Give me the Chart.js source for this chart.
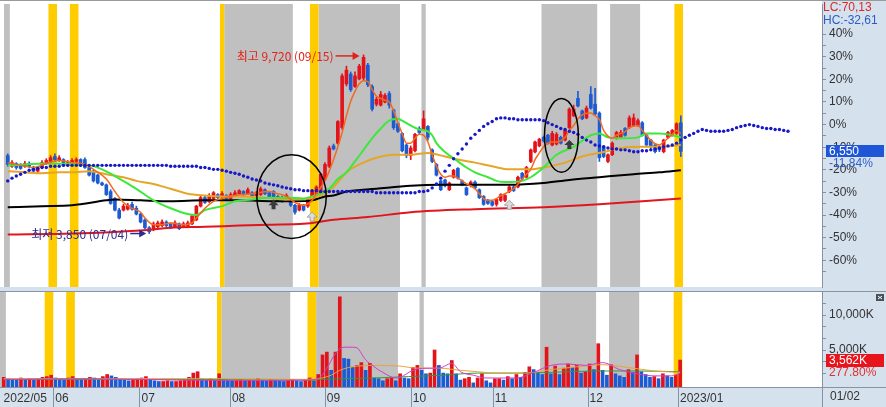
<!DOCTYPE html>
<html lang="ko">
<head>
<meta charset="utf-8">
<title>Daily price chart</title>
<script src="https://cdn.jsdelivr.net/npm/chart.js@4.4.0/dist/chart.umd.min.js"></script>
<style>
  html, body { margin: 0; padding: 0; background: #ffffff; }
  #board { position: relative; width: 886px; height: 407px; overflow: hidden; }
  #board canvas { position: absolute; left: 0; }
  #priceChart { top: 0; }
  #volumeChart { top: 291px; }
</style>
</head>
<body>
<div id="board">
  <canvas id="priceChart" width="886" height="291"></canvas>
  <canvas id="volumeChart" width="886" height="116"></canvas>
</div>
<script>
// daily candles, one per trading day from mid May 2022 to 2023/01/02
const opens = [
  6410, 6060, 6150, 6120, 6060, 6150, 6020, 5900, 6020, 6150,
  6220, 6380, 6250, 6280, 6090, 6150, 6220, 6280, 6280, 6020,
  5900, 5770, 5510, 5450, 5230, 5000, 4620, 4620, 4650, 4810,
  4680, 4490, 4300, 4040, 3980, 4070, 4110, 4230, 4170, 4070,
  4170, 4070, 4110, 4170, 4300, 4750, 5030, 4900, 5000, 5130,
  5070, 5100, 5000, 5100, 5160, 5230, 5160, 5190, 5070, 5130,
  5290, 5190, 5230, 5070, 5030, 5000, 4900, 4780, 4620, 4780,
  4750, 4970, 5130, 5160, 5640, 6060, 6730, 6820, 7330, 8770,
  9090, 8680, 8930, 8960, 9380, 8680, 8100, 8070, 8170, 8450,
  7910, 7460, 7140, 6760, 6410, 6570, 7300, 7270, 7370, 6600,
  6120, 5580, 5610, 5290, 5700, 5990, 5580, 5350, 5420, 5540,
  5290, 5070, 4940, 4900, 4810, 4940, 4940, 5230, 5380, 5380,
  5830, 5700, 6220, 6530, 6730, 7010, 7080, 6760, 6790, 7010,
  6920, 7330, 7720, 8290, 7880, 7650, 8420, 8100, 7810, 6700,
  6220, 6440, 6980, 7010, 7300, 7330, 7400, 7400, 7490, 7080,
  6920, 6760, 6700, 6540, 7010, 7080, 7140, 7490
];
const highs = [
  6470, 6250, 6180, 6150, 6220, 6210, 6060, 6060, 6250, 6310,
  6410, 6470, 6410, 6310, 6250, 6310, 6340, 6310, 6340, 6060,
  5930, 5800, 5540, 5480, 5290, 5030, 4680, 4810, 4840, 4880,
  4750, 4520, 4330, 4080, 4230, 4260, 4300, 4270, 4200, 4270,
  4200, 4230, 4260, 4460, 4780, 5100, 5070, 5160, 5230, 5160,
  5230, 5130, 5190, 5260, 5290, 5260, 5350, 5230, 5230, 5380,
  5320, 5230, 5260, 5100, 5070, 5160, 4940, 4810, 4840, 4810,
  5030, 5290, 5420, 5830, 6180, 6730, 6790, 7560, 9100, 9350,
  9160, 9160, 9410, 9720, 9440, 8740, 8330, 8520, 8450, 8520,
  7940, 7490, 7170, 6790, 6730, 7140, 7360, 7880, 7400, 6630,
  6150, 5610, 5640, 5540, 5960, 6020, 5610, 5380, 5580, 5580,
  5320, 5100, 4970, 4940, 5000, 5160, 5130, 5420, 5420, 5740,
  5860, 6060, 6630, 6890, 6980, 7050, 7110, 7210, 7170, 7050,
  7300, 7980, 8070, 8520, 7910, 8040, 8680, 8620, 7850, 6730,
  6470, 6860, 7210, 7240, 7330, 7720, 7780, 7620, 7530, 7110,
  6950, 6790, 6730, 6950, 7210, 7270, 7490, 7720
];
const lows = [
  6060, 6020, 5960, 5960, 6020, 6020, 5860, 5860, 5990, 6120,
  6180, 6220, 6220, 6050, 6050, 6120, 6180, 6050, 5990, 5740,
  5540, 5480, 5420, 5100, 4810, 4590, 4330, 4590, 4620, 4620,
  4460, 4200, 4010, 3850, 3940, 4040, 4070, 4070, 4010, 4040,
  3980, 4040, 4070, 4140, 4270, 4720, 4840, 4870, 4970, 5000,
  5030, 4970, 4970, 5070, 5130, 5100, 5130, 5030, 5030, 5100,
  5130, 5030, 4970, 4900, 4870, 4970, 4740, 4490, 4590, 4590,
  4710, 4940, 5100, 5130, 5610, 6020, 6600, 6790, 7270, 8700,
  8520, 8650, 8900, 8900, 8680, 7880, 8040, 8040, 8140, 7970,
  7270, 7170, 6530, 6340, 6280, 6530, 7110, 7240, 6920, 6180,
  5740, 5260, 5380, 5260, 5670, 5640, 5420, 5100, 5380, 5320,
  5000, 4780, 4810, 4750, 4750, 4900, 4900, 5190, 5230, 5350,
  5610, 5670, 6180, 6500, 6700, 6860, 6790, 6730, 6760, 6790,
  6890, 7300, 7690, 8010, 7590, 7620, 7940, 7750, 6220, 6340,
  6180, 6410, 6950, 6980, 7050, 7300, 7370, 7370, 7050, 6700,
  6630, 6500, 6540, 6500, 6980, 7050, 7110, 6380
];
const closes = [
  6120, 6180, 6020, 5990, 6150, 6060, 5900, 6020, 6180, 6250,
  6340, 6280, 6340, 6090, 6180, 6250, 6280, 6090, 6020, 5770,
  5580, 5510, 5450, 5130, 4840, 4620, 4360, 4750, 4780, 4650,
  4490, 4230, 4040, 3910, 4170, 4200, 4230, 4110, 4040, 4200,
  4010, 4170, 4200, 4430, 4750, 5030, 4870, 5100, 5190, 5030,
  5160, 5000, 5130, 5190, 5260, 5130, 5290, 5070, 5190, 5320,
  5160, 5070, 5000, 4940, 4900, 5100, 4780, 4550, 4780, 4620,
  5000, 5260, 5380, 5800, 6120, 6660, 6630, 7530, 9030, 9220,
  8580, 9030, 9350, 9640, 8740, 7940, 8260, 8420, 8390, 8070,
  7330, 7210, 6570, 6410, 6660, 7110, 7170, 7620, 7010, 6220,
  5770, 5290, 5420, 5510, 5930, 5670, 5450, 5130, 5540, 5350,
  5030, 4810, 4840, 4780, 4970, 5130, 5100, 5380, 5260, 5700,
  5640, 6020, 6600, 6860, 6950, 6890, 6820, 7140, 7110, 6820,
  7240, 7940, 7940, 8040, 7620, 7970, 7970, 7780, 6340, 6380,
  6440, 6820, 7170, 7170, 7080, 7650, 7650, 7560, 7080, 6760,
  6700, 6540, 6600, 6920, 7170, 7240, 7460, 6550
];
// volume in thousands of shares
const volumes = [
  1100, 900, 800, 700, 1000, 800, 900, 700, 900, 1100,
  1200, 1400, 1000, 900, 800, 1000, 1200, 900, 800, 900,
  1100, 1000, 700, 1200, 1500, 1300, 1100, 800, 700, 600,
  800, 900, 1000, 1200, 800, 600, 500, 500, 600, 500,
  500, 600, 700, 1100, 1700, 1900, 900, 800, 900, 700,
  1600, 800, 700, 600, 700, 800, 600, 700, 600, 900,
  700, 600, 800, 700, 600, 500, 700, 800, 600, 500,
  700, 1000, 600, 1500, 4300, 4700, 2100, 4700, 12600, 3800,
  3700, 2500, 2800, 3200, 2100, 3100, 1000, 900, 600, 900,
  1000, 600, 1600, 1000, 900, 2500, 2800, 2100, 1600, 1700,
  5000, 2800, 1700, 1600, 3500, 1600, 700, 900, 1100, 300,
  1000, 1600, 600, 300, 900, 900, 700, 1200, 900, 1500,
  1100, 1800, 2600, 2200, 1800, 1500, 5400, 1600, 2700, 1500,
  2400, 3000, 2500, 2800, 1700, 1900, 3000, 2200, 5900, 2100,
  1400, 2900, 1600, 1300, 1100, 2200, 1800, 4300, 1900, 1500,
  1100, 1200, 900, 1600, 1300, 1100, 1400, 3562
];
// blue dotted line, runs 26 sessions past the last candle
const dotSpan = [
  5580, 5670, 5740, 5800, 5860, 5930, 5960, 5990, 6020, 6020,
  6060, 6060, 6060, 6090, 6090, 6090, 6090, 6090, 6090, 6090,
  6090, 6090, 6090, 6090, 6090, 6090, 6090, 6090, 6090, 6090,
  6090, 6090, 6090, 6090, 6090, 6090, 6090, 6090, 6060, 6060,
  6060, 6060, 6060, 6060, 6060, 6020, 6020, 5990, 5960, 5960,
  5930, 5900, 5860, 5830, 5800, 5740, 5700, 5640, 5610, 5580,
  5510, 5480, 5450, 5420, 5380, 5350, 5320, 5290, 5290, 5260,
  5260, 5260, 5260, 5230, 5230, 5230, 5230, 5230, 5230, 5230,
  5230, 5230, 5230, 5230, 5230, 5230, 5190, 5190, 5190, 5190,
  5190, 5190, 5190, 5190, 5190, 5190, 5230, 5230, 5260, 5350,
  5480, 5670, 5900, 6090, 6310, 6470, 6630, 6790, 6980, 7110,
  7240, 7370, 7460, 7530, 7620, 7650, 7650, 7620, 7620, 7590,
  7590, 7590, 7590, 7590, 7590, 7560, 7490, 7430, 7370, 7300,
  7270, 7210, 7170, 7110, 7010, 6920, 6860, 6760, 6730, 6700,
  6660, 6630, 6630, 6600, 6600, 6570, 6540, 6540, 6570, 6570,
  6600, 6630, 6660, 6700, 6730, 6760, 6820, 6920, 7010, 7080,
  7140, 7210, 7270, 7240, 7210, 7210, 7210, 7210, 7240, 7270,
  7330, 7370, 7400, 7430, 7400, 7370, 7330, 7300, 7300, 7270,
  7270, 7240, 7210
];
// moving averages as [session, price]
const ma5 = [
  [0, 6180], [3, 6090], [6, 6020], [9, 6150], [12, 6250], [15, 6180], [18, 6120], [20, 5960],
  [23, 5640], [25, 5230], [27, 4870], [29, 4680], [31, 4550], [32, 4360], [34, 4140], [36, 4140],
  [38, 4200], [41, 4140], [43, 4200], [44, 4360], [46, 4680], [48, 4910], [50, 5000], [53, 5100],
  [57, 5160], [61, 5230], [63, 5160], [65, 5070], [67, 4870], [69, 4780], [71, 4940], [72, 5160],
  [74, 5580], [75, 5900], [76, 6280], [77, 6700], [78, 7170], [79, 7720], [80, 8200], [81, 8520],
  [82, 8770], [83, 8870], [84, 8840], [85, 8580], [86, 8360], [87, 8290], [88, 8230], [89, 8170],
  [90, 7880], [91, 7490], [92, 7140], [93, 6820], [94, 6820], [95, 6980], [96, 7110], [97, 7080],
  [98, 6860], [99, 6440], [100, 6060], [101, 5800], [102, 5700], [103, 5740], [104, 5740], [105, 5670],
  [106, 5580], [107, 5480], [108, 5420], [109, 5320], [110, 5160], [111, 5000], [112, 4940], [113, 4940],
  [114, 5000], [115, 5100], [116, 5160], [117, 5240], [118, 5320], [120, 5640], [121, 5800], [122, 5960],
  [123, 6280], [124, 6500], [125, 6700], [126, 6820], [127, 6860], [128, 6860], [130, 7010], [131, 7240],
  [132, 7400], [133, 7620], [134, 7750], [135, 7800], [136, 7810], [137, 7720], [138, 7600], [139, 7240],
  [140, 7050], [141, 6980], [142, 7080], [143, 7140], [144, 7200], [145, 7330], [146, 7380], [147, 7400],
  [148, 7240], [149, 7080], [150, 6920], [151, 6800], [152, 6760], [153, 6860], [154, 6980], [155, 7100],
  [156, 7240], [157, 7140]
];
const ma20 = [
  [0, 6090], [10, 6150], [19, 6090], [22, 5960], [25, 5740], [30, 5320], [34, 4940], [38, 4680],
  [42, 4490], [44, 4460], [46, 4620], [50, 4750], [53, 4910], [57, 4970], [61, 5030], [65, 5030],
  [69, 5000], [71, 5070], [73, 5160], [75, 5320], [77, 5640], [79, 5860], [81, 6220], [83, 6600],
  [85, 6980], [87, 7300], [89, 7560], [91, 7620], [92, 7560], [94, 7400], [96, 7270], [98, 7210],
  [99, 7080], [100, 6820], [102, 6530], [105, 6220], [107, 6020], [109, 5860], [112, 5700], [114, 5580],
  [116, 5540], [120, 5580], [122, 5700], [125, 6020], [128, 6440], [132, 6700], [136, 7080], [138, 7140],
  [140, 7010], [143, 6980], [147, 7010], [149, 7140], [152, 7140], [155, 7080], [157, 7010]
];
const ma60 = [
  [0, 5900], [4, 5860], [8, 5830], [12, 5860], [15, 5860], [19, 5900], [23, 5800], [27, 5700],
  [30, 5580], [34, 5480], [38, 5320], [42, 5160], [46, 5100], [50, 5070], [54, 5070], [60, 5030],
  [65, 4970], [70, 5000], [73, 5100], [76, 5380], [79, 5860], [83, 6180], [86, 6340], [90, 6440],
  [94, 6440], [98, 6500], [102, 6380], [105, 6280], [109, 6180], [113, 6060], [117, 5960], [122, 5960],
  [125, 6020], [130, 6180], [134, 6380], [139, 6530], [143, 6660], [148, 6700], [152, 6700], [157, 6760]
];
const ma120 = [
  [0, 4710], [8, 4750], [15, 4780], [23, 4940], [25, 4970], [31, 4940], [38, 4910], [46, 4940],
  [54, 4940], [62, 4910], [67, 4910], [71, 4940], [74, 5070], [76, 5100], [79, 5230], [86, 5320],
  [94, 5420], [101, 5450], [109, 5450], [117, 5450], [125, 5510], [131, 5610], [138, 5700], [146, 5800],
  [152, 5860], [157, 5930]
];
const ma240 = [
  [0, 3820], [15, 3850], [31, 3950], [38, 4040], [46, 4070], [54, 4110], [61, 4140], [69, 4170],
  [76, 4300], [84, 4390], [94, 4550], [109, 4650], [125, 4710], [138, 4810], [148, 4910], [157, 5000]
];
// volume averages [session, thousand shares]
const volMa5 = [
  [0, 800], [20, 900], [40, 700], [60, 650], [70, 700], [73, 900], [75, 2400], [77, 4500],
  [79, 5400], [81, 5400], [82, 5300], [84, 3600], [86, 2600], [88, 1800], [91, 1000], [92, 1100],
  [95, 2100], [98, 2400], [101, 2400], [104, 3100], [106, 1900], [109, 1400], [112, 1000], [114, 1000],
  [119, 1000], [123, 1800], [127, 2800], [131, 3000], [135, 2800], [139, 3200], [143, 2200], [147, 1600],
  [151, 1300], [155, 1300], [157, 1700]
];
const volMa20 = [
  [0, 900], [30, 900], [50, 900], [70, 800], [73, 900], [76, 1400], [78, 2100], [82, 2700],
  [87, 2800], [92, 2700], [96, 2400], [101, 2400], [106, 2100], [110, 1900], [114, 1700], [121, 1700],
  [127, 2200], [133, 2600], [139, 2900], [145, 2500], [151, 2000], [157, 1800]
];
const volMa60 = [
  [0, 800], [40, 800], [70, 700], [78, 900], [86, 1000], [94, 1200], [102, 1400], [110, 1700],
  [119, 1700], [127, 1800], [137, 2000], [147, 2000], [157, 1900]
];

// shaded sessions [first, last]
const greyDays = [[-1, 0], [51, 66], [73, 91], [97, 97], [125, 137], [141, 147]];
const yellowDays = [[10, 11], [15, 16], [50, 50], [71, 72], [156, 157]];

const monthStarts = [0, 12, 32, 53, 75, 95, 114, 136, 157];
const monthLabels = ['2022/05', '06', '07', '08', '09', '10', '11', '12', '2023/01'];
const pctTicks = [-65, -60, -55, -50, -45, -40, -35, -30, -25, -20, -15, -10, -5, 0, 5, 10, 15, 20, 25, 30, 35, 40];
const volTicks = [1666.7, 3333.3, 5000, 6666.7, 8333.3, 10000, 11666.7, 13333.3];
const volLabelled = [5000, 10000];

const basePrice = 7430;          // 0% on the right-hand scale
const highMark = { idx: 83, price: 9720, date: '09/15' };
const lowMark = { idx: 33, price: 3850, date: '07/04' };
const lcLabel = 'LC:70,13';
const hcLabel = 'HC:-32,61';
const volRatioLabel = '277.80%';
const lastDateLabel = '01/02';

const circles = [
  { from: 58.1, to: 74.3, top: 6440, bottom: 3690 },
  { from: 125.2, to: 133.1, top: 8290, bottom: 5860 }
];
const signals = [
  { idx: 62, price: 4780, kind: 'dark' },
  { idx: 71, price: 4390, kind: 'light' },
  { idx: 117, price: 4780, kind: 'light' },
  { idx: 131, price: 6760, kind: 'dark' }
];

// ---- look ----
const xMin = -0.87, xMax = 189.93;
const pMin = 2093, pMax = 11393;
const vMin = -286, vMax = 13430;
const upColor = '#e3131b';
const downColor = '#1c5bd2';
const axisBg = '#d6e1ee';
const lineGrey = '#8793a3';
const font = '"Liberation Sans", Arial, sans-serif';
const krFont = '"Noto Sans CJK KR", "Liberation Sans", sans-serif';

const fmt = n => n.toLocaleString('en-US');
const pts = list => list.map(([x, y]) => ({ x, y }));
const candleColor = i => (closes[i] >= opens[i] ? upColor : downColor);

function lineSet(data, color, width) {
  return {
    type: 'line', data: pts(data), borderColor: color, borderWidth: width,
    pointRadius: 0, cubicInterpolationMode: 'monotone', fill: false
  };
}

function upArrow(ctx, x, y, fill, stroke) {
  ctx.beginPath();
  ctx.moveTo(x, y - 5);
  ctx.lineTo(x + 5, y);
  ctx.lineTo(x + 2, y);
  ctx.lineTo(x + 2, y + 4);
  ctx.lineTo(x - 2, y + 4);
  ctx.lineTo(x - 2, y);
  ctx.lineTo(x - 5, y);
  ctx.closePath();
  ctx.fillStyle = fill;
  ctx.fill();
  if (stroke) {
    ctx.lineWidth = 1;
    ctx.strokeStyle = stroke;
    ctx.stroke();
  }
}

function note(ctx, tipX, yy, len, text, color) {
  ctx.strokeStyle = color;
  ctx.fillStyle = color;
  ctx.lineWidth = 1.5;
  ctx.beginPath();
  ctx.moveTo(tipX - len, yy);
  ctx.lineTo(tipX - 5, yy);
  ctx.stroke();
  ctx.beginPath();
  ctx.moveTo(tipX, yy);
  ctx.lineTo(tipX - 7, yy - 4);
  ctx.lineTo(tipX - 7, yy + 4);
  ctx.closePath();
  ctx.fill();
  ctx.font = '12px ' + krFont;
  ctx.textAlign = 'right';
  ctx.textBaseline = 'middle';
  ctx.fillText(text, tipX - len - 2, yy + 1);
}

const bands = {
  id: 'bands',
  beforeDatasetsDraw(chart) {
    const { ctx, chartArea: a, scales: { x } } = chart;
    ctx.save();
    ctx.beginPath();
    ctx.rect(a.left, a.top, a.right - a.left, a.bottom - a.top);
    ctx.clip();
    const paint = (days, color) => {
      ctx.fillStyle = color;
      days.forEach(([s, e]) => {
        const x1 = x.getPixelForValue(s - 0.5);
        const x2 = x.getPixelForValue(e + 0.5);
        ctx.fillRect(x1, a.top, x2 - x1, a.bottom - a.top);
      });
    };
    paint(greyDays, '#c0c0c0');
    paint(yellowDays, '#ffcc00');
    ctx.restore();
  }
};

const panelBg = {
  id: 'panelBg',
  beforeDraw(chart) {
    const { ctx, chartArea: a, width, height } = chart;
    ctx.save();
    ctx.fillStyle = '#ffffff';
    ctx.fillRect(0, 0, width, height);
    ctx.fillStyle = axisBg;
    ctx.fillRect(a.right, 0, width - a.right, height);
    if (a.bottom < height) ctx.fillRect(0, a.bottom, width, height - a.bottom);
    ctx.restore();
  }
};

const priceOverlay = {
  id: 'priceOverlay',
  afterDatasetsDraw(chart) {
    const { ctx, scales: { x, y } } = chart;
    ctx.save();
    ctx.strokeStyle = '#000000';
    ctx.lineWidth = 1.5;
    circles.forEach(c => {
      const x1 = x.getPixelForValue(c.from), x2 = x.getPixelForValue(c.to);
      const y1 = y.getPixelForValue(c.top), y2 = y.getPixelForValue(c.bottom);
      ctx.beginPath();
      ctx.ellipse((x1 + x2) / 2, (y1 + y2) / 2, (x2 - x1) / 2, (y2 - y1) / 2, 0, 0, Math.PI * 2);
      ctx.stroke();
    });
    signals.forEach(s => {
      const dark = s.kind === 'dark';
      upArrow(ctx, x.getPixelForValue(s.idx), y.getPixelForValue(s.price),
        dark ? '#3a3a3a' : '#dcdcdc', dark ? null : '#a4a4a4');
    });
    note(ctx, x.getPixelForValue(highMark.idx) - 4, y.getPixelForValue(highMark.price) + 1, 24,
      `최고 ${fmt(highMark.price)} (${highMark.date})`, '#e2231a');
    note(ctx, x.getPixelForValue(lowMark.idx) - 3, y.getPixelForValue(lowMark.price), 16,
      `최저 ${fmt(lowMark.price)} (${lowMark.date})`, '#2d2d8f');
    ctx.restore();
  },
  afterDraw(chart) {
    const { ctx, chartArea: a, width, scales: { y } } = chart;
    ctx.save();
    ctx.strokeStyle = '#9a9a9a';
    ctx.lineWidth = 1;
    ctx.beginPath();
    ctx.moveTo(0, 0.5);
    ctx.lineTo(width, 0.5);
    ctx.stroke();
    ctx.font = '12px ' + font;
    ctx.textAlign = 'left';
    ctx.textBaseline = 'middle';
    ctx.fillStyle = '#d42a2a';
    ctx.fillText(lcLabel, a.right + 1, 8);
    ctx.fillStyle = '#2a5ec4';
    ctx.fillText(hcLabel, a.right + 1, 21);
    const last = closes[closes.length - 1];
    const py = Math.round(y.getPixelForValue(last));
    ctx.fillStyle = '#1f56d8';
    ctx.fillRect(a.right + 4, py - 6, 58, 12);
    ctx.fillStyle = '#ffffff';
    ctx.fillText(fmt(last), a.right + 7, py + 0.5);
    ctx.fillStyle = '#2d62cc';
    ctx.fillText(((last / basePrice - 1) * 100).toFixed(2) + '%', a.right + 7, py + 13);
    ctx.restore();
  }
};

const volumeOverlay = {
  id: 'volumeOverlay',
  afterDraw(chart) {
    const { ctx, chartArea: a, width, height, scales: { x, y } } = chart;
    ctx.save();
    ctx.strokeStyle = lineGrey;
    ctx.lineWidth = 1;
    ctx.beginPath();
    ctx.moveTo(0, 0.5);
    ctx.lineTo(width, 0.5);
    ctx.moveTo(0, a.bottom + 0.5);
    ctx.lineTo(width, a.bottom + 0.5);
    monthStarts.slice(1).forEach(m => {
      const px = Math.round(x.getPixelForValue(m - 0.5)) + 0.5;
      ctx.moveTo(px, a.bottom);
      ctx.lineTo(px, height);
    });
    ctx.moveTo(a.right + 0.5, a.bottom);
    ctx.lineTo(a.right + 0.5, height);
    ctx.stroke();

    const lastVol = volumes[volumes.length - 1];
    const vy = Math.round(y.getPixelForValue(lastVol));
    ctx.font = '12px ' + font;
    ctx.textAlign = 'left';
    ctx.textBaseline = 'middle';
    ctx.fillStyle = '#e8141c';
    ctx.fillRect(a.right + 4, vy - 6, 58, 13);
    ctx.fillStyle = '#ffffff';
    ctx.fillText(fmt(lastVol) + 'K', a.right + 7, vy + 1);
    ctx.fillStyle = '#e03030';
    ctx.fillText(volRatioLabel, a.right + 7, vy + 13);

    ctx.fillStyle = '#333333';
    ctx.fillText(lastDateLabel, a.right + 8, a.bottom + 10);

    ctx.fillStyle = '#4a5058';
    ctx.fillRect(width - 10, 3, 8, 7);
    ctx.strokeStyle = '#ffffff';
    ctx.beginPath();
    ctx.moveTo(width - 8, 5); ctx.lineTo(width - 4, 8);
    ctx.moveTo(width - 4, 5); ctx.lineTo(width - 8, 8);
    ctx.stroke();
    ctx.restore();
  }
};

const tickFont = { family: font, size: 12 };

new Chart(document.getElementById('priceChart'), {
  type: 'bar',
  data: {
    datasets: [
      {
        type: 'line', data: dotSpan.map((v, i) => ({ x: i, y: v })), showLine: false,
        pointRadius: 1.7, pointBackgroundColor: '#1818c8', pointBorderWidth: 0
      },
      lineSet(ma5, '#f26a1e', 1.5),
      lineSet(ma20, '#3ce83c', 2),
      lineSet(ma60, '#e5a627', 2),
      lineSet(ma120, '#000000', 2),
      lineSet(ma240, '#e0161e', 2),
      {
        type: 'bar', data: opens.map((o, i) => ({ x: i, y: [o, closes[i]] })),
        barThickness: 3, grouped: false, minBarLength: 1,
        backgroundColor: ctx => candleColor(ctx.dataIndex)
      },
      {
        type: 'bar', data: lows.map((l, i) => ({ x: i, y: [l, highs[i]] })),
        barThickness: 1, grouped: false,
        backgroundColor: ctx => candleColor(ctx.dataIndex)
      }
    ]
  },
  options: {
    responsive: false,
    animation: false,
    events: [],
    layout: { padding: 0 },
    scales: {
      x: { type: 'linear', min: xMin, max: xMax, offset: false, display: false },
      y: {
        type: 'linear', position: 'right', min: pMin, max: pMax,
        afterBuildTicks: s => { s.ticks = pctTicks.map(p => ({ value: basePrice * (1 + p / 100) })); },
        afterFit: s => { s.width = 64; s.paddingTop = 0; s.paddingBottom = 0; },
        grid: { drawOnChartArea: false, tickLength: 4, color: lineGrey },
        border: { color: lineGrey },
        ticks: {
          autoSkip: false, padding: 3, color: '#333333', font: tickFont,
          callback: v => {
            const p = Math.round((v / basePrice - 1) * 100);
            return p % 10 === 0 && p >= -60 ? p + '%' : '';
          }
        }
      }
    },
    plugins: { legend: { display: false }, tooltip: { enabled: false } }
  },
  plugins: [panelBg, bands, priceOverlay]
});

new Chart(document.getElementById('volumeChart'), {
  type: 'bar',
  data: {
    datasets: [
      lineSet(volMa5, '#d23ccc', 1),
      lineSet(volMa20, '#e8a43a', 1),
      lineSet(volMa60, '#2f9a3c', 1),
      {
        type: 'bar', data: volumes.map((v, i) => ({ x: i, y: v })),
        barThickness: 3, grouped: false, base: vMin,
        backgroundColor: ctx => {
          const i = ctx.dataIndex;
          return i > 0 && volumes[i] < volumes[i - 1] ? downColor : upColor;
        }
      }
    ]
  },
  options: {
    responsive: false,
    animation: false,
    events: [],
    layout: { padding: 0 },
    scales: {
      x: {
        type: 'linear', min: xMin, max: xMax, offset: false,
        afterBuildTicks: s => { s.ticks = monthStarts.map(m => ({ value: Math.max(m - 0.5, xMin) })); },
        afterFit: s => { s.height = 20; s.paddingLeft = 0; s.paddingRight = 0; },
        grid: { display: false, drawTicks: false },
        border: { display: false },
        ticks: {
          autoSkip: false, maxRotation: 0, minRotation: 0, align: 'start',
          labelOffset: 2, padding: 4, color: '#333333', font: tickFont,
          callback: (v, i) => monthLabels[i]
        }
      },
      y: {
        type: 'linear', position: 'right', min: vMin, max: vMax,
        afterBuildTicks: s => { s.ticks = volTicks.map(v => ({ value: v })); },
        afterFit: s => { s.width = 64; s.paddingTop = 0; s.paddingBottom = 0; },
        grid: { drawOnChartArea: false, tickLength: 4, color: lineGrey },
        border: { color: lineGrey },
        ticks: {
          autoSkip: false, padding: 3, color: '#333333', font: tickFont,
          callback: v => (volLabelled.includes(v) ? fmt(v) + 'K' : '')
        }
      }
    },
    plugins: { legend: { display: false }, tooltip: { enabled: false } }
  },
  plugins: [panelBg, bands, volumeOverlay]
});
</script>
</body>
</html>
